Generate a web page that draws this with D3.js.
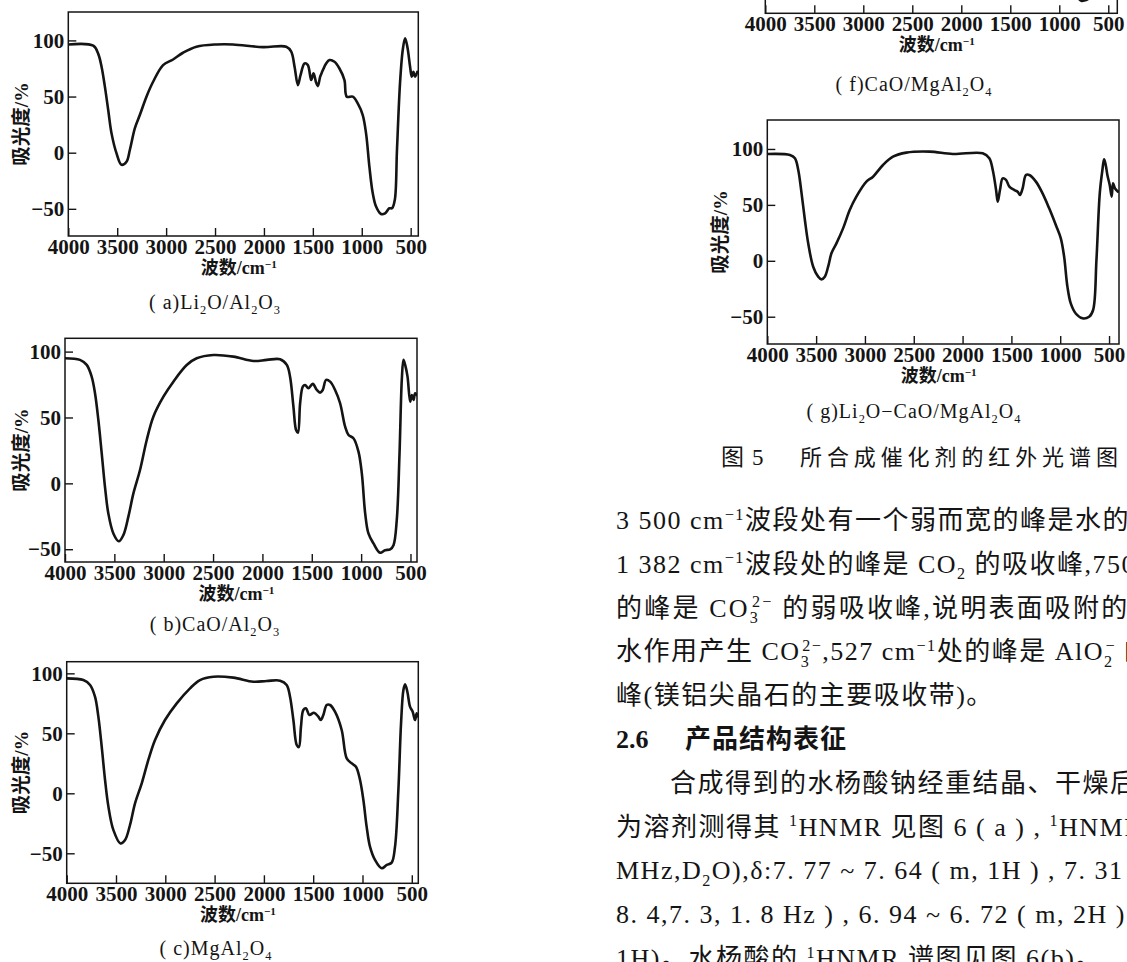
<!DOCTYPE html>
<html><head><meta charset="utf-8">
<script src="https://cdn.jsdelivr.net/npm/d3@7"></script>
<style>
body{margin:0;background:#fff;}
svg{display:block;}
</style></head><body>
<svg id="c" width="1127" height="962"></svg>
<script>
// ---------- data ----------
const xTicks = [4000,3500,3000,2500,2000,1500,1000,500];
const yTicks = [100,50,0,-50];

const wnA = [4000,3745,3694,3660,3626,3592,3558,3507,3456,3405,3371,3320,3269,3201,3133,3031,2929,2827,2690,2486,2316,2010,1772,1721,1687,1653,1626,1585,1551,1517,1493,1466,1449,1425,1405,1364,1330,1279,1228,1177,1153,1092,1041,990,956,922,888,854,803,762,718,690,662,640,609,581,557,534,506,489,472,455,432];
const absA = [96.4,95.3,88,76.6,58.8,38,17.2,-0.6,-10.8,-8,2.4,21.7,33.5,49.9,63.2,78,83,89,94.4,96.4,96.4,94,94.4,90,76.6,60.2,69,79.5,78,64.7,70.6,62.3,59.3,67.7,72,79.5,82.5,81,75,64.7,49.9,49.9,43.9,33.5,17.2,-12.5,-36,-48,-54.6,-54,-49.5,-49.5,-42,2.4,61.8,91.5,101.8,94.4,76.6,67.7,72,67.7,72];

const wnB = [4000,3848,3780,3730,3696,3662,3628,3595,3561,3510,3455,3409,3358,3307,3240,3172,3105,3003,2902,2767,2666,2497,2294,2091,1956,1821,1753,1720,1686,1659,1640,1618,1591,1568,1534,1490,1449,1416,1389,1355,1314,1264,1213,1162,1128,1078,1027,993,959,926,875,808,757,706,672,639,611,588,571,554,530,503,486,469,453,435];
const absB = [95,93.7,89.9,81,68.4,48.1,22.8,-2.6,-22.8,-38,-44,-39.3,-25.3,-7.6,10.1,32.9,50.6,65.8,77.2,89.8,94.9,97.4,96.2,92.9,93.7,94.2,89.9,81,58.3,40.5,38.5,60.8,73.4,74.7,72.2,75.5,70.9,68.9,70.9,78.5,77.2,70.9,60.8,43,36.7,34.2,24.1,7.6,-22.8,-38,-45.6,-52.7,-50.7,-50.1,-46.9,-27.9,22.8,78.5,93.7,89.9,81,62,67,63.3,68.4,67];

const wnC = [4000,3831,3763,3713,3679,3645,3611,3577,3527,3455,3408,3358,3307,3239,3172,3104,3003,2884,2749,2648,2512,2310,2107,1972,1836,1769,1735,1701,1667,1645,1624,1600,1573,1539,1492,1448,1424,1397,1363,1329,1279,1211,1160,1110,1066,1025,991,958,924,873,805,754,704,670,636,609,585,568,545,518,491,467,450,434];
const absC = [95.8,94.4,90.3,80.5,63.9,38.9,11.1,-11.1,-30.5,-41.8,-38.9,-26.4,-8.3,8.3,27.8,44.4,61.1,75,87.5,94.4,97.2,96.4,93,93.6,93.9,90.3,80.5,61.1,40.3,38.5,55.5,69.4,70.8,65.3,67.2,63.9,61.1,65.3,73.6,73.6,68,52.8,29.1,25,22.2,11.1,-5.6,-27.8,-44.4,-55.5,-62.5,-59.7,-57.8,-44.4,2.8,58.3,86.1,90.8,84.7,72.2,68,61.1,66.7,63.9];

const wnF = [900,840,800,770,740,705,670];
const absF = [-35,-55,-61.5,-63.3,-62.8,-61.5,-45];

const wnG = [4000,3768,3717,3683,3649,3615,3581,3530,3479,3445,3411,3377,3343,3292,3224,3156,3088,2985,2917,2815,2713,2577,2338,2100,1794,1726,1691,1657,1640,1617,1589,1555,1521,1470,1436,1412,1385,1351,1317,1249,1181,1113,1045,994,960,926,892,841,772,704,663,629,595,568,551,534,517,493,473,459,439,408];
const absG = [95.5,94.6,91.7,81.2,60.3,36.5,15.6,-5.3,-14.2,-16.6,-14.2,-5.3,6.7,15.6,29,45.4,57.4,70.8,75.2,85.7,93.1,96.7,97.6,95.5,96.1,91.7,81.2,63.3,52.8,63.3,73.7,72.3,66.3,63.3,61.8,58.8,64.8,76.7,76.7,70.8,60.3,46.9,32,20.1,3.7,-23.3,-38.1,-47.1,-51.4,-50,-44,0.7,60.3,81.2,90.7,85.7,76.7,67.8,57.4,69.3,64.8,61.8];

const yLabel = "吸光度/%";
const xLabel = "波数/cm^{−1}";
const captions = ["( a)Li_{2}O/Al_{2}O_{3}","( b)CaO/Al_{2}O_{3}","( c)MgAl_{2}O_{4}","( f)CaO/MgAl_{2}O_{4}","( g)Li_{2}O−CaO/MgAl_{2}O_{4}"];
const figTitleNum = ["图","5"];
const figTitle = "所合成催化剂的红外光谱图";
const bodyLines = [
  "3 500 cm^{−1}波段处有一个弱而宽的峰是水的吸收峰",
  "1 382 cm^{−1}波段处的峰是 CO_{2} 的吸收峰,750 cm^{−1}",
  "的峰是 CO~{3|2−} 的弱吸收峰,说明表面吸附的",
  "水作用产生 CO~{3|2−},527 cm^{−1}处的峰是 AlO~{2|−} 的吸收",
  "峰(镁铝尖晶石的主要吸收带)。",
  "",
  "合成得到的水杨酸钠经重结晶、干燥后,以",
  "为溶剂测得其 ^{1}HNMR 见图 6 ( a ) , ^{1}HNMR",
  "MHz,D_{2}O),δ:7. 77 ~ 7. 64 ( m, 1H ) , 7. 31 ( dd",
  "8. 4,7. 3, 1. 8  Hz ) , 6. 94 ~ 6. 72 ( m, 2H ) ,",
  "1H)。水杨酸的 ^{1}HNMR 谱图见图 6(b)。"
];
const sectionNum = "2.6";
const sectionTitle = "产品结构表征";

// ---------- layout ----------
const SERIF = "'Liberation Serif','Times New Roman','Noto Sans CJK SC',serif";
const CJKB = "'Liberation Serif','Noto Sans CJK SC',sans-serif";
const svg = d3.select("#c");
const INK = "#141414";

function rich(t, str, fs){
  const re = /(\^\{[^}]*\})|(_\{[^}]*\})|(~\{[^}]*\})/g;
  let last = 0, m; const parts = [];
  while((m = re.exec(str))){
    if(m.index > last) parts.push({k:'n', s:str.slice(last, m.index)});
    parts.push({k:m[0][0], s:m[0].slice(2,-1)});
    last = re.lastIndex;
  }
  if(last < str.length) parts.push({k:'n', s:str.slice(last)});
  const sfs = fs*0.62, up = -0.36*fs, down = 0.24*fs;
  let cur = 0;
  parts.forEach(p => {
    if(p.k === 'n'){ t.append('tspan').attr('dy', -cur).text(p.s); cur = 0; }
    else if(p.k === '^'){ t.append('tspan').attr('dy', up-cur).attr('font-size', sfs).text(p.s); cur = up; }
    else if(p.k === '_'){ t.append('tspan').attr('dy', down-cur).attr('font-size', sfs).text(p.s); cur = down; }
    else {
      const [a,b] = p.s.split('|');
      t.append('tspan').attr('dy', down-cur).attr('font-size', sfs).text(a);
      t.append('tspan').attr('dx', -a.length*sfs*0.5).attr('dy', up-down).attr('font-size', sfs).text(b);
      cur = up;
    }
  });
  return t;
}

// panel f lies mostly above the visible page: only its bottom axis shows
const panels = [
  {wn:wnA, ab:absA, x0:68.3, x1:418.3, y0:12, y1:236, xEnd:422, yMin:-74.2, yMax:125.3, cap:captions[0], capX:215, capY:303, ylx:20, showY:true},
  {wn:wnB, ab:absB, x0:65, x1:417, y0:338.3, y1:562, xEnd:434, yMin:-59.7, yMax:110.1, cap:captions[1], capX:215, capY:625, ylx:20.5, showY:true},
  {wn:wnC, ab:absC, x0:66.7, x1:418.3, y0:661.7, y1:883.3, xEnd:434, yMin:-75, yMax:109.7, cap:captions[2], capX:216, capY:949, ylx:20.5, showY:true},
  {wn:wnF, ab:absF, x0:765.3, x1:1117.3, y0:-210.7, y1:13.3, xEnd:408, yMin:-74.4, yMax:125.9, cap:captions[3], capX:914, capY:85, ylx:717, showY:false},
  {wn:wnG, ab:absG, x0:767.3, x1:1119, y0:120, y1:344, xEnd:398, yMin:-74.4, yMax:125.9, cap:captions[4], capX:914, capY:411.7, ylx:719.5, showY:true}
];

panels.forEach((p,i) => {
  const x = d3.scaleLinear().domain([4000, p.xEnd]).range([p.x0, p.x1]);
  const y = d3.scaleLinear().domain([p.yMin, p.yMax]).range([p.y1, p.y0]);
  const g = svg.append('g');
  const cid = 'clip'+i;
  g.append('clipPath').attr('id', cid).append('rect')
    .attr('x', p.x0).attr('y', p.y0).attr('width', p.x1-p.x0).attr('height', p.y1-p.y0);
  const pts = p.wn.map((w,j) => [w, p.ab[j]]);
  const line = d3.line().x(d => x(d[0])).y(d => y(d[1])).curve(d3.curveCatmullRom.alpha(0.5));
  g.append('path').attr('clip-path', `url(#${cid})`).attr('d', line(pts))
    .attr('fill','none').attr('stroke', INK).attr('stroke-width', 2.6)
    .attr('stroke-linejoin','round').attr('stroke-linecap','round');

  const axes = [];
  axes.push(g.append('g').attr('transform', `translate(0,${p.y1})`)
    .call(d3.axisBottom(x).tickValues(xTicks).tickSizeInner(-8).tickSizeOuter(0).tickPadding(3).tickFormat(d3.format('d'))));
  if(p.showY){
    axes.push(g.append('g').attr('transform', `translate(${p.x0},0)`)
      .call(d3.axisLeft(y).tickValues(yTicks).tickSizeInner(-8).tickSizeOuter(0).tickPadding(4).tickFormat(d => d < 0 ? '−' + Math.abs(d) : d)));
  }
  axes.forEach(a => {
    a.select('.domain').remove();
    a.attr('font-family', SERIF).attr('font-size', 21).attr('font-weight', 'bold');
    a.selectAll('line').attr('stroke', INK).attr('stroke-width', 1.4);
    a.selectAll('text').attr('fill', INK);
  });
  g.append('rect').attr('x', p.x0).attr('y', p.y0).attr('width', p.x1-p.x0).attr('height', p.y1-p.y0)
    .attr('fill','none').attr('stroke', INK).attr('stroke-width', 1.5);

  // axis titles
  const xt = g.append('text').attr('x', (p.x0+p.x1)/2 - 4.5).attr('y', p.y1 + 38)
    .attr('text-anchor','middle').attr('font-family', CJKB).attr('font-size', 18).attr('font-weight','bold').attr('fill', INK);
  rich(xt, xLabel, 18);
  if(p.showY){
    const cy = (p.y0+p.y1)/2;
    g.append('text').attr('transform', `translate(${p.ylx+7.5},${cy}) rotate(-90)`)
      .attr('text-anchor','middle').attr('font-family', CJKB).attr('font-size', 19.5).attr('font-weight','bold')
      .attr('fill', INK).text(yLabel);
  }
  const ct = g.append('text').attr('x', p.capX).attr('y', p.capY + 6).attr('text-anchor','middle')
    .attr('font-family', SERIF).attr('font-size', 20).attr('letter-spacing', 1).attr('fill', INK);
  rich(ct, p.cap, 20);
});

// figure title
svg.append('text').attr('x', 721).attr('y', 465).attr('font-family', SERIF).attr('font-size', 23).attr('fill', INK).text(figTitleNum[0]);
svg.append('text').attr('x', 752).attr('y', 465).attr('font-family', SERIF).attr('font-size', 23).attr('fill', INK).text(figTitleNum[1]);
svg.append('text').attr('x', 800).attr('y', 465).attr('font-family', SERIF).attr('font-size', 22)
  .attr('letter-spacing', 4.9).attr('fill', INK).text(figTitle);

// body text
const bx = 616, by0 = 520, lh = 43.8, bfs = 26;
bodyLines.forEach((s,i) => {
  if(!s) return;
  const t = svg.append('text').attr('x', i === 6 ? bx + 54 : bx).attr('y', by0 + i*lh + 9)
    .attr('font-family', SERIF).attr('font-size', bfs).attr('letter-spacing', i === 2 ? 2.2 : 1.5).attr('fill', INK);
  rich(t, s, bfs);
});
svg.append('text').attr('x', bx).attr('y', by0 + 5*lh + 9).attr('font-family', SERIF).attr('font-size', bfs)
  .attr('font-weight','bold').attr('fill', INK).text(sectionNum);
svg.append('text').attr('x', 685).attr('y', by0 + 5*lh + 9).attr('font-family', CJKB).attr('font-size', bfs)
  .attr('font-weight','bold').attr('letter-spacing', 1).attr('fill', INK).text(sectionTitle);
</script>
</body></html>
